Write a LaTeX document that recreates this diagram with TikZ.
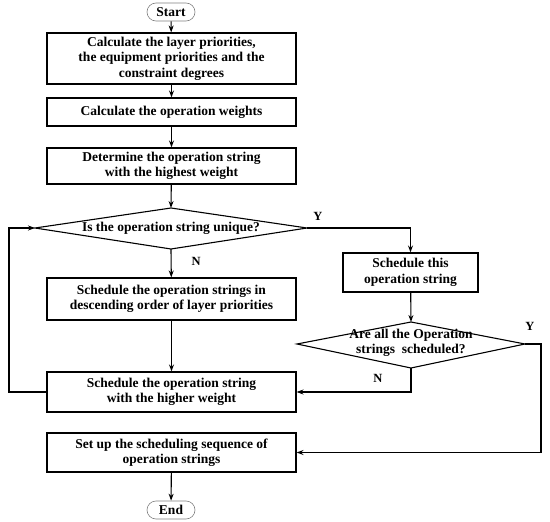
\documentclass[tikz,border=0pt]{standalone}
\usepackage{fontspec}
\setmainfont{Liberation Serif}
\usetikzlibrary{arrows.meta}
\begin{document}
\begin{tikzpicture}[x=1pt,y=-1pt,
  every node/.style={font=\bfseries\fontsize{13.5}{15.5}\selectfont, inner sep=0pt, align=center},
  term/.style={draw=gray, line width=0.6pt, rounded corners=9pt, minimum width=48pt, minimum height=18pt},
  proc/.style={draw, line width=1.1pt, minimum width=249pt},
  lab/.style={font=\bfseries\fontsize{12.5}{14}\selectfont},
  conn/.style={line width=1.1pt, -{Stealth[length=7pt,width=5pt]}},
  plain/.style={line width=1.1pt}]
\useasboundingbox (0,0) rectangle (550,522);
\node[term] (start) at (171,12) {Start};
\node[proc, minimum height=51pt] (b1) at (171.5,58.5) {Calculate the layer priorities,\\the equipment priorities and the\\constraint degrees};
\node[proc, minimum height=28pt] (b2) at (171.5,112) {Calculate the operation weights};
\node[proc, minimum height=36pt] (b3) at (171.5,166) {Determine the operation string\\with the highest weight};
% decision 1
\coordinate (d1n) at (171,208);
\coordinate (d1e) at (307,228);
\coordinate (d1s) at (171,249);
\coordinate (d1w) at (35,228);
\draw[plain] (d1n) -- (d1e) -- (d1s) -- (d1w) -- cycle;
\node (d1) at (171,228) {Is the operation string unique?};
\node[proc, minimum width=135pt, minimum height=39pt] (b4) at (410.5,272.5) {Schedule this\\operation string};
\node[proc, minimum height=42pt] (b5) at (171.5,299) {Schedule the operation strings in\\descending order of layer priorities};
% decision 2
\coordinate (d2n) at (411,322);
\coordinate (d2e) at (525,344);
\coordinate (d2s) at (411,368);
\coordinate (d2w) at (297,344);
\draw[plain] (d2n) -- (d2e) -- (d2s) -- (d2w) -- cycle;
\node (d2) at (411,343) {Are all the Operation\\strings\ \ scheduled?};
\node[proc, minimum height=40pt] (b6) at (171.5,392) {Schedule the operation string\\with the higher weight};
\node[proc, minimum height=39pt] (b7) at (171.5,452.5) {Set up the scheduling sequence of\\operation strings};
\node[term] (end) at (171,510) {End};
\coordinate (c1) at (410.5,228);
\coordinate (c2) at (541,344);
\coordinate (c3) at (541,452.5);
\coordinate (c4) at (411,392);
\coordinate (c5) at (9,392);
\coordinate (c6) at (9,228);
\draw[conn] (start) -- (b1);
\draw[conn] (b1) -- (b2);
\draw[conn] (b2) -- (b3);
\draw[conn] (b3) -- (d1n);
\draw[conn] (d1s) -- node[lab, right=20pt, pos=0.45] {N} (b5);
\draw[conn] (d1e) -- (c1) -- (b4);
\node[lab] at (318,216) {Y};
\draw[conn] (b4) -- (d2n);
\draw[conn] (d2e) -- (c2) -- (c3) -- (b7);
\node[lab] at (530,326) {Y};
\draw[conn] (d2s) -- (c4) -- (b6);
\node[lab] at (378,378) {N};
\draw[conn] (b5) -- (b6);
\draw[conn] (b6.west) -- (c5) -- (c6) -- (d1w);
\draw[conn] (b7) -- (end);
\end{tikzpicture}
\end{document}
